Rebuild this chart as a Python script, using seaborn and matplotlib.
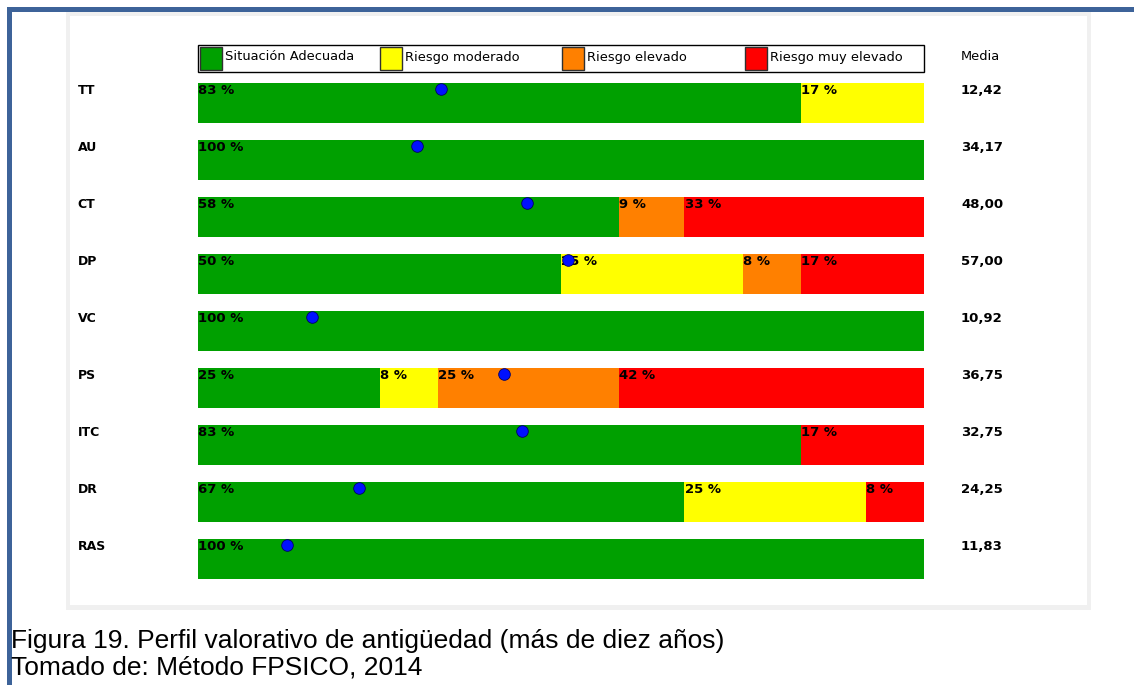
import matplotlib
matplotlib.use("Agg")
import matplotlib.pyplot as plt
import seaborn as sns
import pandas as pd
import numpy as np
from matplotlib.patches import Rectangle

# ---- data ----
factors = ["TT", "AU", "CT", "DP", "VC", "PS", "ITC", "DR", "RAS"]
adecuada = [83, 100, 58, 50, 100, 25, 83, 67, 100]
moderado = [17, 0, 0, 25, 0, 8, 0, 25, 0]
elevado = [0, 0, 9, 8, 0, 25, 0, 0, 0]
muy_elevado = [0, 0, 33, 17, 0, 42, 17, 8, 0]
media = ["12,42", "34,17", "48,00", "57,00", "10,92", "36,75", "32,75", "24,25", "11,83"]
media_pos = [33.5, 30.2, 45.3, 51.0, 15.7, 42.1, 44.6, 22.2, 12.3]  # dot position along bar (0-100)
categories = ["Situación Adecuada", "Riesgo moderado", "Riesgo elevado", "Riesgo muy elevado"]
colors = ["#00a000", "#ffff00", "#ff8000", "#ff0000"]
caption = ["Figura 19. Perfil valorativo de antigüedad (más de diez años)",
           "Tomado de: Método FPSICO, 2014"]

sns.set_theme(style="white")
plt.rcParams["font.family"] = ["DejaVu Sans"]
plt.rcParams["text.color"] = "black"

W, H = 1134, 685
fig = plt.figure(figsize=(W / 100, H / 100), dpi=100)
fig.patch.set_facecolor("white")

def fx(px):
    return px / W

def fy(py):
    return 1 - py / H

def rect(x0, y0, x1, y1, fc, ec="none", lw=0, z=-10):
    fig.add_artist(Rectangle((fx(x0), fy(y1)), (x1 - x0) / W, (y1 - y0) / H,
                             transform=fig.transFigure, facecolor=fc, edgecolor=ec,
                             linewidth=lw, zorder=z))

# outer frame lines (blue)
frame_col = "#3d6399"
rect(7, 7, 12, 685, frame_col)
rect(7, 7, 1134, 12, frame_col)
# grey panel
rect(66, 12, 1091, 610, "#f0f0f0")
rect(70, 16, 1087, 605, "white")

# axes: x 0..100 -> 198..924 px; row i center at 103 + 57 i
ax = fig.add_axes([fx(198), fy(587.5), fx(726), 513 / H])
ax.set_facecolor("none")
ax.set_zorder(2)

cum = np.cumsum(np.array([adecuada, moderado, elevado, muy_elevado]), axis=0)
for k in [3, 2, 1, 0]:
    d = pd.DataFrame({"factor": factors, "val": cum[k]})
    sns.barplot(data=d, x="val", y="factor", orient="h", color=colors[k], width=40 / 57,
                saturation=1, ax=ax, linewidth=0)

ax.set_xlim(0, 100)
ax.set_ylim(8.5, -0.5)
ax.set_xlabel("")
ax.set_ylabel("")
ax.set_xticks([])
ax.set_yticks([])
for s in ax.spines.values():
    s.set_visible(False)

# percentage labels, row labels, media values
vals = np.array([adecuada, moderado, elevado, muy_elevado])
starts = np.vstack([np.zeros(len(factors)), cum[:-1]])
for i in range(len(factors)):
    for k in range(4):
        if vals[k, i] > 0:
            ax.text(starts[k, i] + 0.05, i - 0.22, f"{vals[k, i]} %", fontsize=9.5, fontweight="bold",
                    ha="left", va="center", color="black", zorder=5)
    ax.text(-16.6, i - 0.22, factors[i], fontsize=9, fontweight="bold", ha="left", va="center",
            clip_on=False)
    ax.text(105.1, i - 0.22, media[i], fontsize=9.5, fontweight="bold", ha="left", va="center",
            clip_on=False)

dots = pd.DataFrame({"x": media_pos, "y": np.arange(len(factors)) - 0.24})
sns.scatterplot(data=dots, x="x", y="y", color="#0010ff", edgecolor="#000060", linewidth=0.6, s=70,
                ax=ax, zorder=6, clip_on=False)
ax.set_xlabel("")
ax.set_ylabel("")

# legend box
rect(198, 45, 924, 72, "white", ec="black", lw=1, z=3)
leg_x = [200, 380, 562, 745]
for k in range(4):
    rect(leg_x[k], 47, leg_x[k] + 22, 70, colors[k], ec="#303030", lw=1, z=4)
    fig.text(fx(leg_x[k] + 25), fy(57), categories[k], fontsize=9.4, ha="left", va="center", zorder=5)
fig.text(fx(961), fy(56), "Media", fontsize=9.4, ha="left", va="center")

# caption
for j, line in enumerate(caption):
    fig.text(fx(11), fy(641 + 27 * j), line, fontsize=19, ha="left", va="center",
             family=["Liberation Sans"], color="black")

fig.savefig("out.png", dpi=100)
